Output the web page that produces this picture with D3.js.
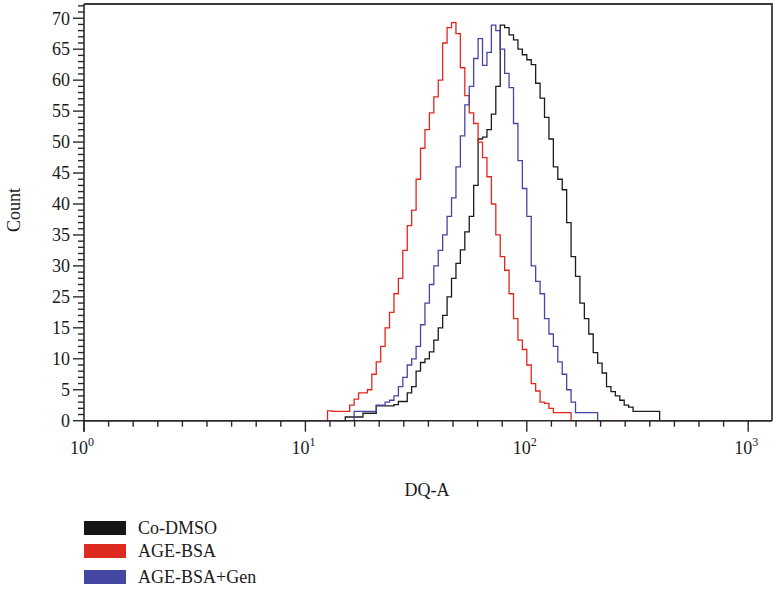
<!DOCTYPE html>
<html>
<head>
<meta charset="utf-8">
<script src="https://cdn.jsdelivr.net/npm/d3@7/dist/d3.min.js"></script>
<style>
  html, body { margin: 0; padding: 0; background: #fff; }
  svg { display: block; }
  text { font-family: "Liberation Serif", "DejaVu Serif", serif; fill: #1a1a1a; }
</style>
</head>
<body>
<svg id="chart" width="773" height="591"></svg>
<script>
// ---------------- DATA ----------------
// Histogram bins: 50 bins per decade of DQ-A; each series lists counts starting at its first bin index.
const binsPerDecade = 50;
const seriesNames = ["Co-DMSO", "AGE-BSA", "AGE-BSA+Gen"];
const seriesColors = ["#1c1c1c", "#e2271d", "#4446a6"];
const legendColors = ["#161616", "#dd2b1f", "#4447a2"];

const coDmsoStart = 59;
const coDmsoCounts = [0.6,0.6,0.6,0.6,1.2,1.2,1.2,2.4,2.4,2.4,2.4,2.6,3.1,3.1,4.5,5.5,8,9.4,10,11.1,
  13,15,17,20,23,25.4,27.6,30.5,33,38,45.5,45.8,47,49.5,54,63.9,63.5,62.3,61.5,60,
  59.1,58.3,57.5,54.5,52.1,49,45.5,41,39,37.3,32,26.5,23.3,19,16.5,14,11,9.3,7.7,5.5,
  4.7,4,3.3,2.5,2.2,1.5,1.5,1.5,1.5,1.5,1.5];

const ageBsaStart = 55;
const ageBsaCounts = [1.6,1.5,1.5,1.5,1.5,2.5,3.5,4.5,4.5,5,7.5,9.5,12,15,17.5,20.5,23,27.5,31.5,34,
  39,44,47,49.7,52.3,55,61,63.5,64.3,62.5,57,52.5,49.7,48,45,42.5,39.4,35,30,26.5,
  24.3,20.5,16.5,13,11.5,9,6,4.8,3,2.8,2,1.3,1.3,1.3,1.3];

const ageBsaGenStart = 61;
const ageBsaGenCounts = [1.5,1.5,1.5,1.5,1.5,2.5,2.5,3,3.3,4,5.5,7,9,10,12,15.5,19,22,25,27.5,
  30,33,36,41,46,51,54,58.5,61.7,57.4,59.5,63.9,63,60,56.1,53.8,48,42,37.5,33,
  25,22.5,20.5,16.5,14,12,9.5,7.5,5,3,1.3,1.3,1.3,1.3,1.3];

// Y tick labels as printed in the reference (evenly spaced; the original skips "20")
const yTickLabels = ["0","5","10","15","25","30","35","40","45","50","55","60","65","70"];
const xTickExponents = [0, 1, 2, 3];
const xTitle = "DQ-A";
const yTitle = "Count";

// ---------------- LAYOUT ----------------
const plot = { left: 84, right: 772, top: 4, bottom: 420.7 };
const svg = d3.select("#chart");

const x = d3.scaleLog().domain([1, Math.pow(10, 3.1075)]).range([plot.left, plot.right]);
const y = d3.scaleLinear().domain([0, 67.3]).range([plot.bottom, plot.top]);

// frame (top and right)
svg.append("path")
  .attr("d", `M${plot.left},${plot.top}H${plot.right}V${plot.bottom}`)
  .attr("fill", "none").attr("stroke", "#3a3a3a").attr("stroke-width", 1.8);

// ---------------- SERIES ----------------
const edge = i => Math.pow(10, i / binsPerDecade);
function stepPoints(start, counts) {
  const pts = [[x.domain()[0], 0]];
  counts.forEach((c, k) => pts.push([edge(start + k), c]));
  pts.push([edge(start + counts.length), 0]);
  pts.push([x.domain()[1], 0]);
  return pts;
}
const line = d3.line().x(d => x(d[0])).y(d => y(d[1])).curve(d3.curveStepAfter);
const seriesData = [
  stepPoints(coDmsoStart, coDmsoCounts),
  stepPoints(ageBsaStart, ageBsaCounts),
  stepPoints(ageBsaGenStart, ageBsaGenCounts)
];
seriesData.forEach((pts, i) => {
  svg.append("path").attr("d", line(pts))
    .attr("fill", "none").attr("stroke", seriesColors[i]).attr("stroke-width", 1.3)
    .attr("stroke-linejoin", "miter");
});

// ---------------- Y AXIS ----------------
const yAxisG = svg.append("g");
yAxisG.append("line").attr("x1", plot.left).attr("x2", plot.left)
  .attr("y1", plot.top).attr("y2", plot.bottom + 11)
  .attr("stroke", "#2a2a2a").attr("stroke-width", 1.6);
d3.range(0, 68, 1).forEach(v => {
  const major = v % 5 === 0;
  yAxisG.append("line")
    .attr("x1", plot.left - (major ? 11 : 6)).attr("x2", plot.left)
    .attr("y1", y(v)).attr("y2", y(v))
    .attr("stroke", "#2a2a2a").attr("stroke-width", 1.4);
});
yTickLabels.forEach((lab, i) => {
  yAxisG.append("text")
    .attr("x", 70).attr("y", y(i * 5)).attr("dy", "0.35em")
    .attr("text-anchor", "end").attr("font-size", 18).text(lab);
});

// ---------------- X AXIS ----------------
const xAxisG = svg.append("g");
xAxisG.append("line").attr("x1", plot.left).attr("x2", plot.right)
  .attr("y1", plot.bottom).attr("y2", plot.bottom)
  .attr("stroke", "#2a2a2a").attr("stroke-width", 1.6);
// ticks every 1/9 decade, as drawn in the reference
d3.range(0, 28).forEach(k => {
  const v = Math.pow(10, k / 9);
  const major = k % 9 === 0;
  xAxisG.append("line")
    .attr("x1", x(v)).attr("x2", x(v))
    .attr("y1", plot.bottom).attr("y2", plot.bottom + (major ? 11 : 6))
    .attr("stroke", "#2a2a2a").attr("stroke-width", 1.4);
});
xTickExponents.forEach(e => {
  const t = xAxisG.append("text")
    .attr("x", x(Math.pow(10, e)) - 2).attr("y", 454)
    .attr("text-anchor", "middle").attr("font-size", 18);
  t.append("tspan").text("10");
  t.append("tspan").attr("dy", -8).attr("font-size", 12).text(String(e));
});

// ---------------- TITLES ----------------
svg.append("text").attr("x", 427).attr("y", 496).attr("text-anchor", "middle")
  .attr("font-size", 18).text(xTitle);
svg.append("text").attr("transform", "translate(20,210) rotate(-90)")
  .attr("text-anchor", "middle").attr("font-size", 18).text(yTitle);

// ---------------- LEGEND ----------------
const legendY = [528, 551, 577];
seriesNames.forEach((name, i) => {
  svg.append("rect").attr("x", 84).attr("y", legendY[i] - 7).attr("width", 42).attr("height", 14)
    .attr("fill", legendColors[i]);
  svg.append("text").attr("x", 138).attr("y", legendY[i]).attr("dy", "0.35em")
    .attr("font-size", 18).text(name);
});
</script>
</body>
</html>
